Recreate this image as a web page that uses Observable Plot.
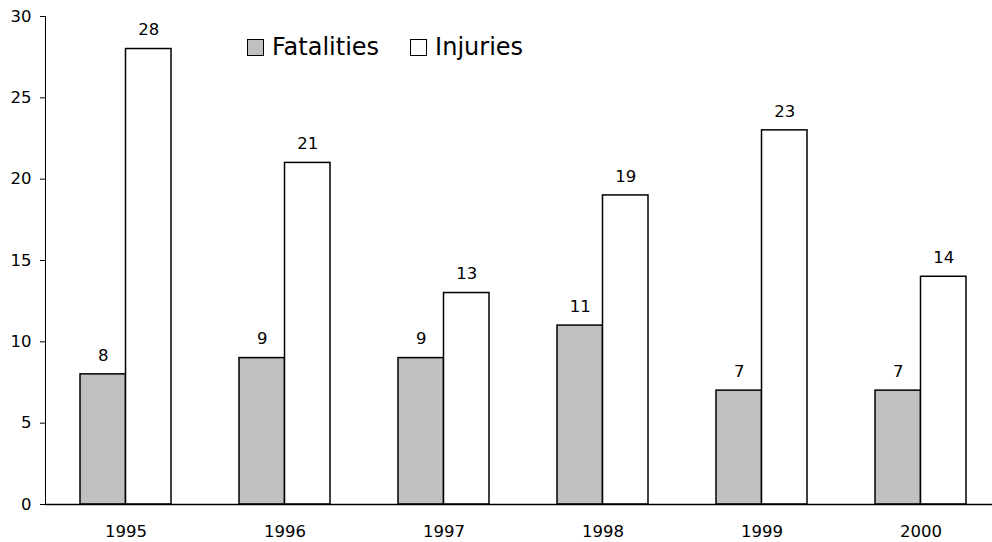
<!DOCTYPE html>
<html><head><meta charset="utf-8">
<script src="https://cdn.jsdelivr.net/npm/d3@7"></script>
<script src="https://cdn.jsdelivr.net/npm/@observablehq/plot@0.6"></script>
<style>
body{margin:0;background:#fff;}
#wrap{position:relative;width:992px;height:542px;font-family:"DejaVu Sans",sans-serif;}
.legend{position:absolute;left:247px;top:33px;display:flex;align-items:center;font-size:24px;color:#000;}
.item{display:flex;align-items:center;margin-right:31px;}
.sw{width:15px;height:15px;border:1.5px solid #000;margin-right:8px;}
</style>
</head><body><div id="wrap"></div>
<script>
const years = ["1995","1996","1997","1998","1999","2000"];
const fatalities = [8,9,9,11,7,7];
const injuries = [28,21,13,19,23,14];
const seriesNames = ["Fatalities","Injuries"];
const seriesColors = ["#c0c0c0","#ffffff"];
const yTicks = [0,5,10,15,20,25,30];

const data = years.map((y,i)=>({year:y,fat:fatalities[i],inj:injuries[i]}));
const half = 45.5;
const chart = Plot.plot({
  width:992, height:542, marginTop:16, marginBottom:38, marginLeft:45, marginRight:0,
  style:{fontFamily:"DejaVu Sans, sans-serif", fontSize:"16.5px", color:"#000", background:"#fff"},
  x:{domain:years, range:[46,1000], paddingInner:0.428, paddingOuter:0.214, label:null},
  y:{domain:[0,30], label:null},
  marks:[
    Plot.barY(data,{x:"year", y:"fat", fill:seriesColors[0], stroke:"#000", strokeWidth:1.5, insetRight:half}),
    Plot.barY(data,{x:"year", y:"inj", fill:seriesColors[1], stroke:"#000", strokeWidth:1.5, insetLeft:half}),
    Plot.text(data,{x:"year", y:"fat", text:"fat", dx:-half/2, dy:-19, fill:"#000"}),
    Plot.text(data,{x:"year", y:"inj", text:"inj", dx:half/2, dy:-19, fill:"#000"}),
    Plot.frame({anchor:"left", stroke:"#000", strokeWidth:1}),
    Plot.ruleY([0],{stroke:"#000", strokeWidth:1.5}),
    Plot.axisY({ticks:yTicks, tickSize:5, tickPadding:9, label:null, stroke:"#000"}),
    Plot.axisX({tickSize:0, tickPadding:21, label:null})
  ]
});
const wrap = document.getElementById("wrap");
wrap.appendChild(chart);
const leg = document.createElement("div");
leg.className = "legend";
seriesNames.forEach((n,i)=>{
  const it = document.createElement("div"); it.className="item";
  const sw = document.createElement("div"); sw.className="sw"; sw.style.background=seriesColors[i];
  const t = document.createElement("span"); t.textContent=n;
  it.appendChild(sw); it.appendChild(t); leg.appendChild(it);
});
wrap.appendChild(leg);
</script>
</body></html>
